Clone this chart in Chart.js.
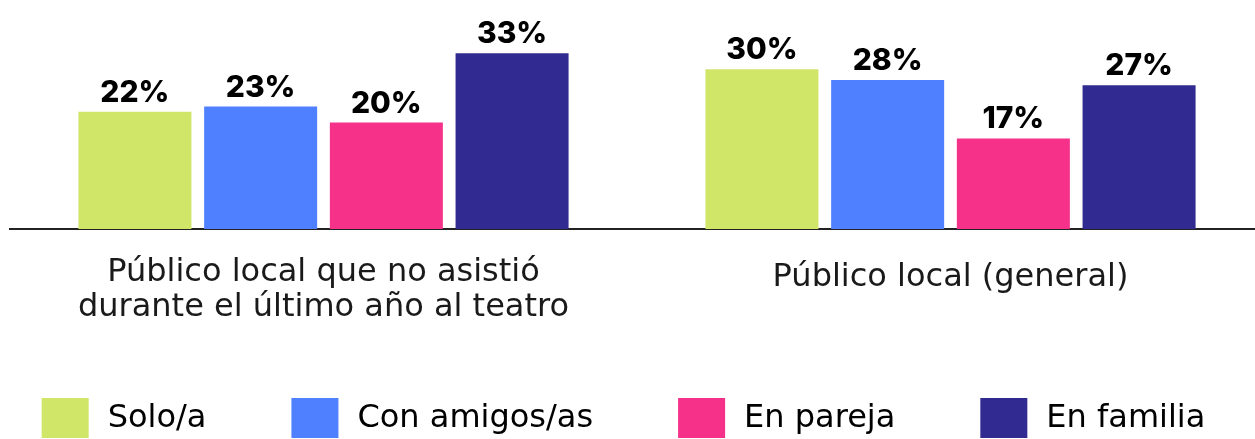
<!DOCTYPE html>
<html>
<head>
<meta charset="utf-8">
<script src="https://cdn.jsdelivr.net/npm/chart.js@4/dist/chart.umd.min.js"></script>
<style>
  html, body { margin: 0; padding: 0; background: #ffffff; overflow: hidden; }
  #wrap { width: 1255px; height: 439px; overflow: hidden; position: relative; }
  canvas { display: block; }
</style>
</head>
<body>
<div id="wrap"><canvas id="c" width="1264" height="439"></canvas></div>
<script>
// ---- data ----
const categories = [
  ["Público local que no asistió", "durante el último año al teatro"],
  "Público local (general)"
];
const seriesNames = ["Solo/a", "Con amigos/as", "En pareja", "En familia"];
const soloValues    = [22, 30];
const amigosValues  = [23, 28];
const parejaValues  = [20, 17];
const familiaValues = [33, 27];
const seriesColors = ["#D0E668", "#4F80FF", "#F5318A", "#312A91"];

const allValues = [soloValues, amigosValues, parejaValues, familiaValues];

const valueLabels = {
  id: 'valueLabels',
  afterDatasetsDraw(chart) {
    const ctx = chart.ctx;
    ctx.save();
    ctx.font = '800 30px Inter, "DejaVu Sans", sans-serif';
    ctx.fillStyle = '#000000';
    ctx.textAlign = 'center';
    ctx.textBaseline = 'alphabetic';
    chart.data.datasets.forEach((ds, i) => {
      const meta = chart.getDatasetMeta(i);
      meta.data.forEach((bar, j) => {
        ctx.fillText(ds.data[j] + '%', bar.x, bar.y - 10);
      });
    });
    ctx.restore();
  }
};

const boxLegend = {
  id: 'boxLegend',
  afterDraw(chart) {
    const ctx = chart.ctx;
    ctx.save();
    ctx.font = '32px "DejaVu Sans", sans-serif';
    const boxW = 47, boxH = 40, gapText = 19, gapItem = 85;
    const items = chart.data.datasets.map(ds => ({
      text: ds.label, color: ds.backgroundColor, w: ctx.measureText(ds.label).width
    }));
    let total = 0;
    items.forEach((it, i) => { total += boxW + gapText + it.w + (i < items.length - 1 ? gapItem : 0); });
    let x = 623.5 - total / 2;
    const top = 398;
    ctx.textBaseline = 'middle';
    ctx.textAlign = 'left';
    items.forEach(it => {
      ctx.fillStyle = it.color;
      ctx.fillRect(x, top, boxW, boxH);
      ctx.fillStyle = '#000000';
      ctx.fillText(it.text, x + boxW + gapText, top + boxH / 2 + 1);
      x += boxW + gapText + it.w + gapItem;
    });
    ctx.restore();
  }
};

new Chart(document.getElementById('c'), {
  type: 'bar',
  data: {
    labels: categories,
    datasets: seriesNames.map((name, i) => ({
      label: name,
      data: allValues[i],
      backgroundColor: seriesColors[i],
      borderWidth: 0,
      categoryPercentage: 0.802,
      barPercentage: 0.899
    }))
  },
  options: {
    responsive: false,
    animation: false,
    devicePixelRatio: 1,
    layout: { padding: { top: 16, left: 10, right: 0, bottom: 88 } },
    plugins: {
      legend: { display: false },
      tooltip: { enabled: false }
    },
    scales: {
      x: {
        grid: { display: false, drawTicks: false },
        border: { display: true, color: '#222222', width: 2 },
        ticks: {
          color: '#1a1a1a',
          padding: 26,
          maxRotation: 0,
          autoSkip: false,
          font: (c) => ({
            family: '"DejaVu Sans", sans-serif',
            size: 32,
            lineHeight: Array.isArray(categories[c.index]) ? 35 / 32 : 45 / 32
          })
        }
      },
      y: {
        display: false,
        min: 0,
        max: 40,
        grid: { display: false }
      }
    }
  },
  plugins: [valueLabels, boxLegend]
});
</script>
</body>
</html>
